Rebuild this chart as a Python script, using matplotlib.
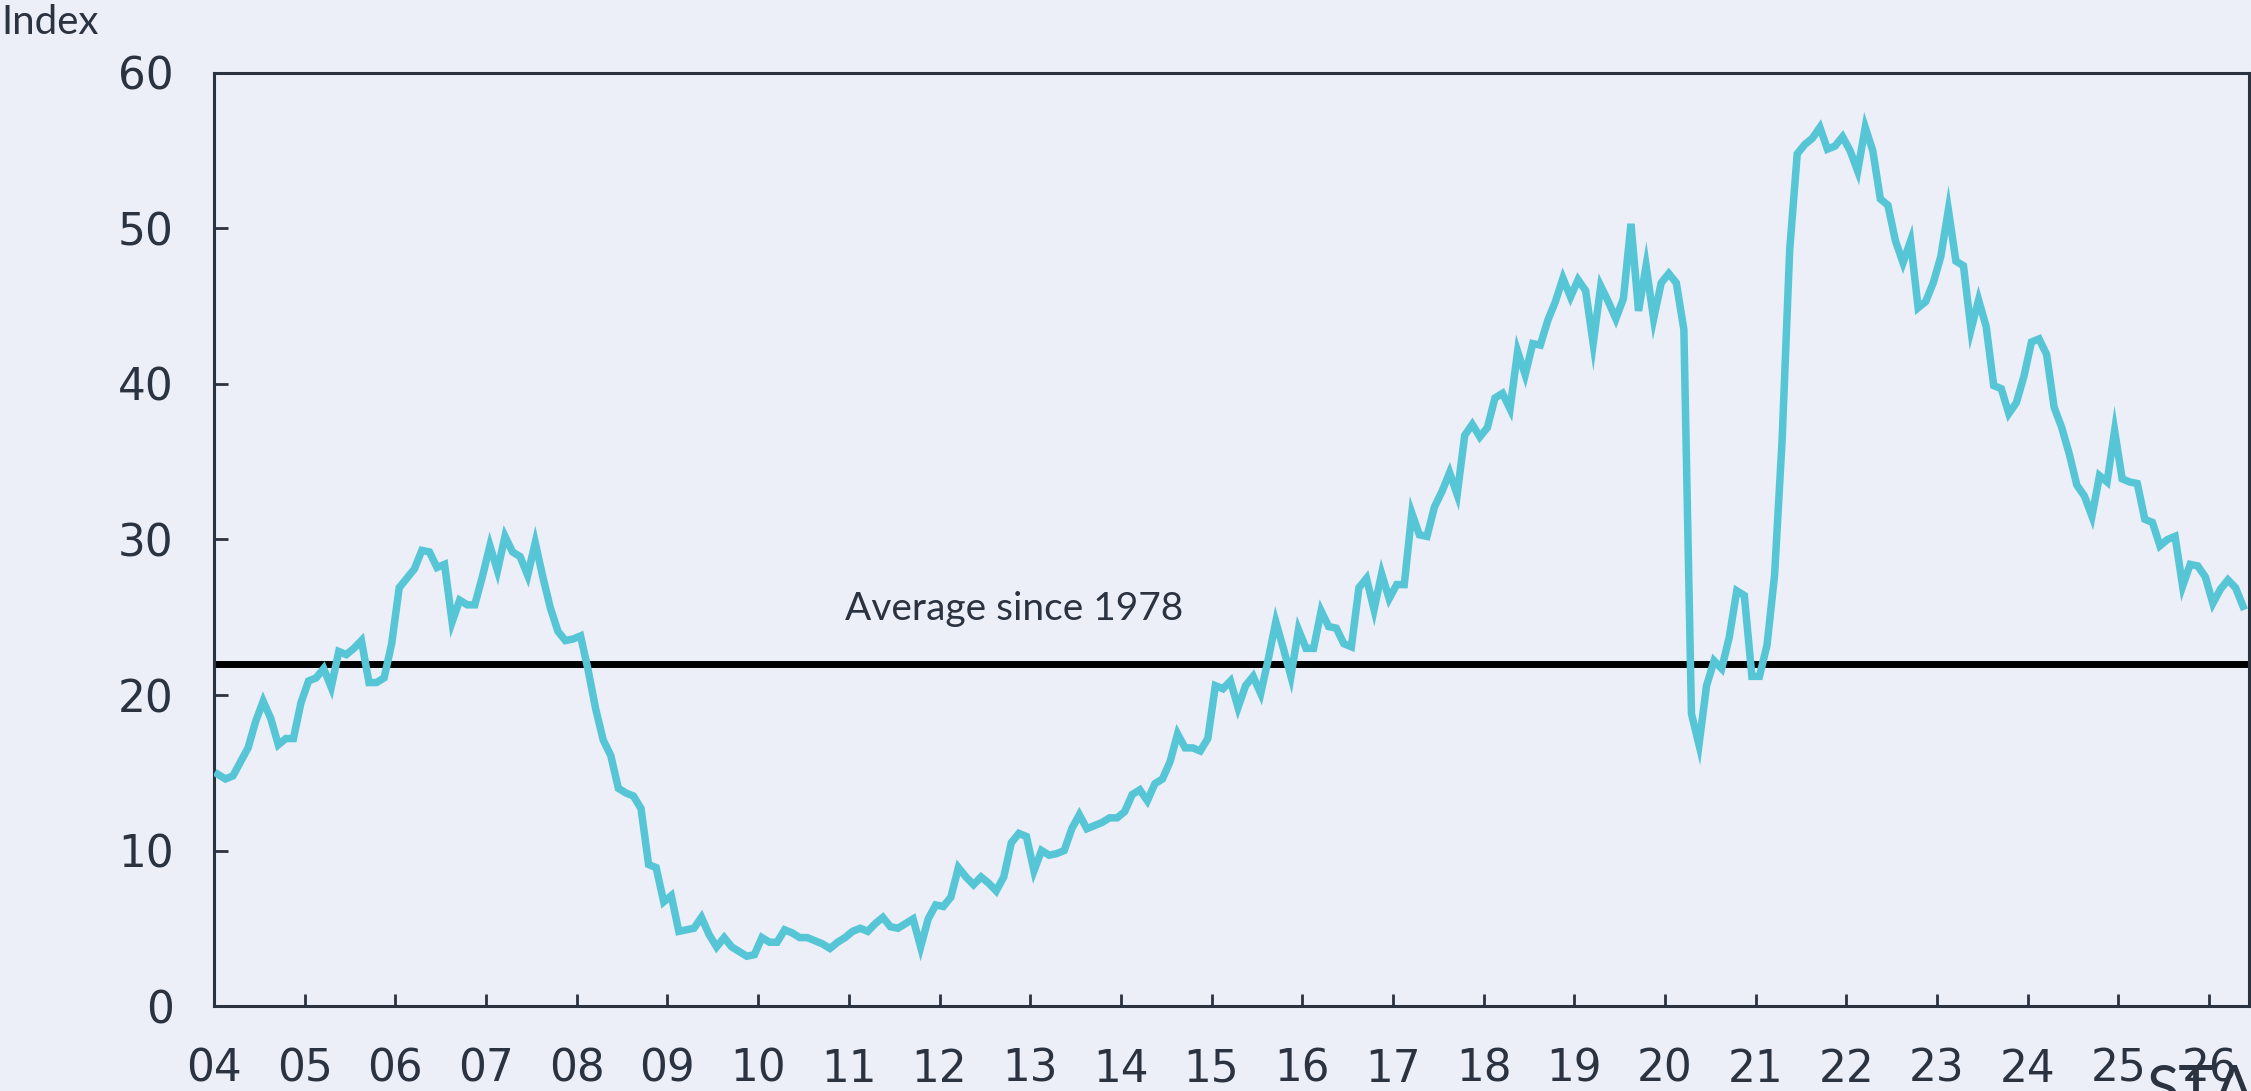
import numpy as np
import matplotlib
matplotlib.use("Agg")
import matplotlib.pyplot as plt

# monthly index values, Jan 2004 .. May 2026
index_values = [
    14.9, 14.6, 14.8, 15.7, 16.6, 18.3, 19.6, 18.5, 16.8, 17.2, 17.2, 19.5,   # 2004
    20.9, 21.1, 21.7, 20.5, 22.8, 22.6, 23.0, 23.5, 20.8, 20.8, 21.1, 23.3,   # 2005
    26.9, 27.5, 28.1, 29.3, 29.2, 28.2, 28.4, 24.7, 26.1, 25.8, 25.8, 27.6,   # 2006
    29.6, 28.0, 30.2, 29.2, 28.9, 27.7, 29.8, 27.6, 25.6, 24.1, 23.5, 23.6,   # 2007
    23.8, 21.6, 19.1, 17.1, 16.1, 14.0, 13.7, 13.5, 12.7, 9.1, 8.9, 6.7,      # 2008
    7.1, 4.8, 4.9, 5.0, 5.7, 4.6, 3.8, 4.4, 3.8, 3.5, 3.2, 3.3,               # 2009
    4.4, 4.1, 4.1, 4.9, 4.7, 4.4, 4.4, 4.2, 4.0, 3.7, 4.1, 4.4,               # 2010
    4.8, 5.0, 4.8, 5.3, 5.7, 5.1, 5.0, 5.3, 5.6, 3.8, 5.6, 6.5,               # 2011
    6.4, 7.0, 8.9, 8.3, 7.8, 8.3, 7.9, 7.4, 8.3, 10.5, 11.1, 10.9,            # 2012
    8.7, 10.0, 9.7, 9.8, 10.0, 11.4, 12.3, 11.4, 11.6, 11.8, 12.1, 12.1,      # 2013
    12.5, 13.6, 13.9, 13.2, 14.3, 14.6, 15.7, 17.5, 16.6, 16.6, 16.4, 17.2,   # 2014
    20.6, 20.4, 20.9, 19.2, 20.6, 21.2, 20.1, 22.3, 24.7, 23.0, 21.2, 24.2,   # 2015
    23.0, 23.0, 25.4, 24.4, 24.3, 23.3, 23.1, 26.9, 27.5, 25.5, 27.8, 26.2,   # 2016
    27.1, 27.1, 31.7, 30.3, 30.2, 32.1, 33.1, 34.3, 32.9, 36.7, 37.4, 36.6,   # 2017
    37.2, 39.1, 39.4, 38.4, 42.1, 40.6, 42.6, 42.5, 44.1, 45.3, 46.8, 45.6,   # 2018
    46.7, 46.0, 42.6, 46.3, 45.3, 44.2, 45.5, 50.3, 44.7, 47.6, 44.2, 46.5,   # 2019
    47.1, 46.5, 43.5, 18.8, 16.8, 20.6, 22.2, 21.7, 23.7, 26.7, 26.4, 21.2,   # 2020
    21.2, 23.2, 27.7, 36.4, 48.6, 54.8, 55.4, 55.8, 56.5, 55.1, 55.3, 55.9,   # 2021
    55.0, 53.7, 56.5, 55.0, 51.9, 51.5, 49.2, 47.8, 49.2, 44.9, 45.3, 46.5,   # 2022
    48.2, 51.2, 47.9, 47.6, 43.5, 45.4, 43.7, 39.9, 39.7, 38.1, 38.8, 40.5,   # 2023
    42.7, 42.9, 41.9, 38.5, 37.2, 35.5, 33.5, 32.8, 31.5, 34.1, 33.7, 37.0,   # 2024
    33.9, 33.7, 33.6, 31.3, 31.1, 29.6, 30.0, 30.2, 27.0, 28.4, 28.3, 27.6,   # 2025
    25.9, 26.8, 27.4, 26.9, 25.7,                                             # 2026
]
start_year = 2004
average_since_1978 = 22.0
avg_label = "Average since 1978"

years = list(range(2004, 2027))
year_labels = [f"{y % 100:02d}" for y in years]
y_ticks = [0, 10, 20, 30, 40, 50, 60]

bg = "#ECEFF8"
ink = "#2B3240"
teal = "#56C6D6"

# mid-month positions in decimal years
x = start_year + (np.arange(len(index_values)) + 0.5) / 12

fig = plt.figure(figsize=(22.51, 10.91), dpi=100, facecolor=bg)
ax = fig.add_axes([0.0951, 0.0779, 0.904, 0.8552])
ax.set_facecolor(bg)

ax.axhline(average_since_1978, color="black", lw=5.0, zorder=2)
ax.plot(x, index_values, color=teal, lw=5.4, zorder=3, solid_joinstyle="miter")

ax.text(2010.96, 24.8, avg_label, fontsize=28, family="Lato", color=ink,
        va="baseline", ha="left")

ax.set_xlim(2004, 2026.44)
ax.set_ylim(0, 60)
ax.set_xticks(years)
ax.set_xticklabels(year_labels)
ax.set_yticks(y_ticks)

for s in ax.spines.values():
    s.set_color(ink)
    s.set_linewidth(2.2)

ax.tick_params(axis="x", direction="in", length=9, width=2, color=ink,
               labelsize=31.5, labelcolor=ink, pad=30)
ax.tick_params(axis="y", direction="in", length=10, width=2, color=ink,
               labelsize=31.5, labelcolor=ink, pad=29)

fig.text(0.0005, 0.996, "Index", fontsize=29, family="Lato", color=ink,
         va="top", ha="left")
# clipped mark at the bottom-right corner
fig.text(2146 / 2251, 1 - 1064 / 1091, "STA", fontsize=43, family="Lato",
         color=ink, va="top", ha="left")

fig.savefig("out.png", dpi=100, facecolor=bg)
